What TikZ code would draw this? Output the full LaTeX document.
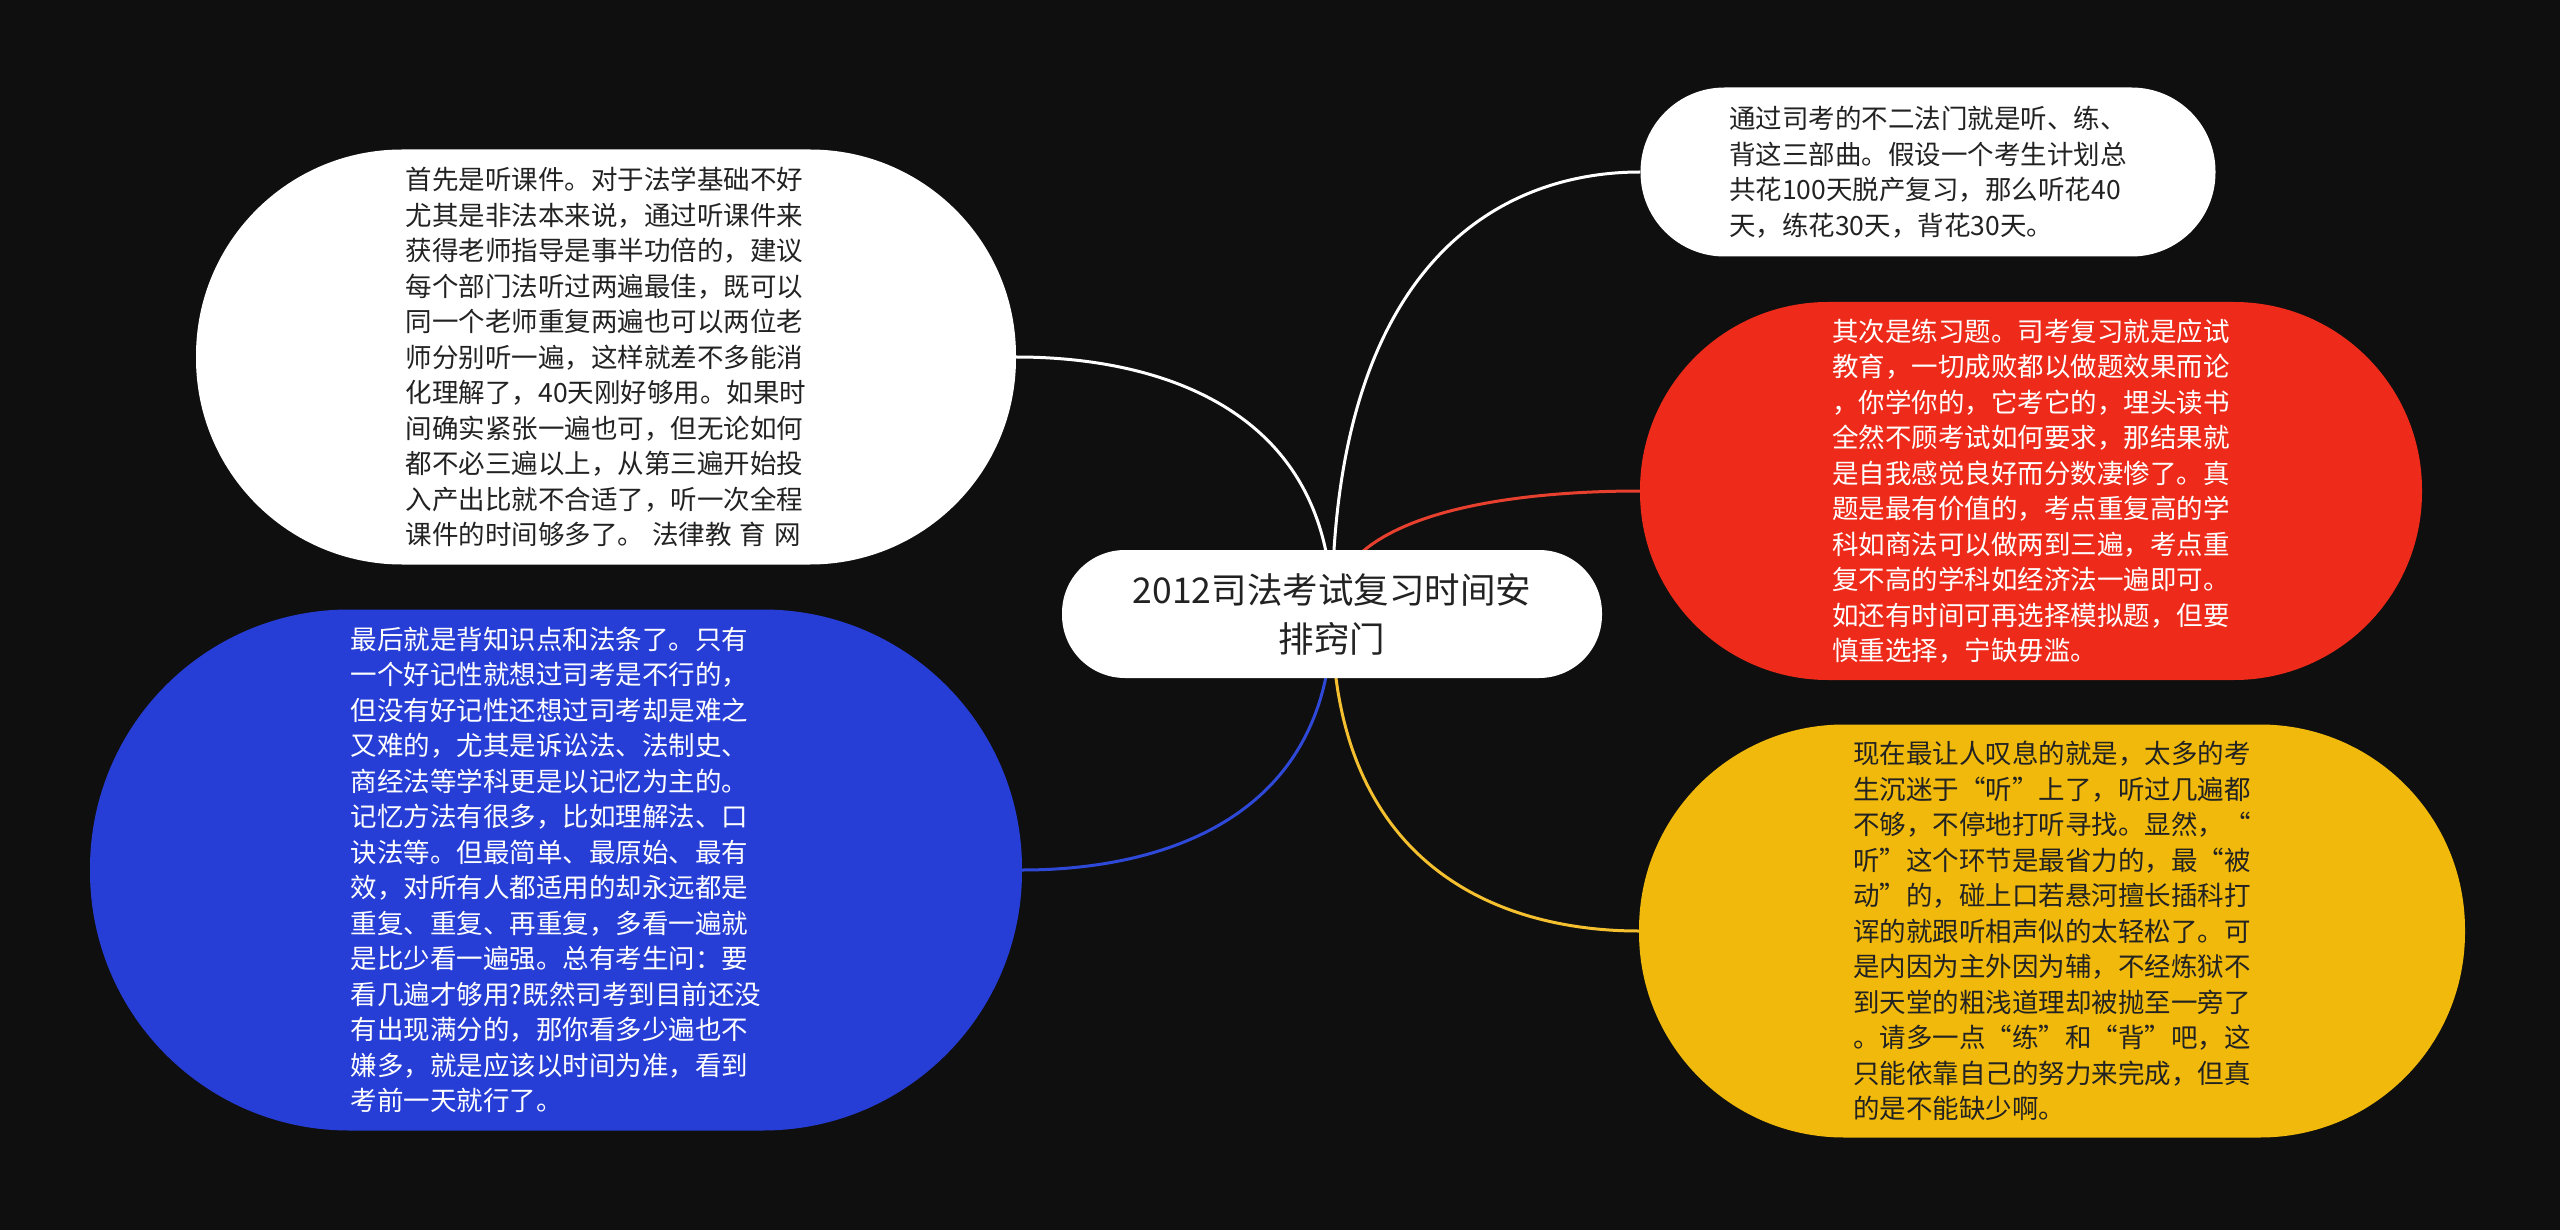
\documentclass[tikz,border=0pt]{standalone}
\usepackage{fontspec}
\newfontfamily\cjk{Noto Sans CJK SC}
\usetikzlibrary{calc}
\pgfdeclarelayer{bg}
\pgfsetlayers{bg,main}
\definecolor{bgc}{HTML}{0F0F0F}
\definecolor{blueN}{HTML}{263ED6}
\definecolor{redN}{HTML}{EE2B1A}
\definecolor{yellowN}{HTML}{F0B90B}
\definecolor{blueL}{HTML}{2E48D8}
\definecolor{redL}{HTML}{E8402E}
\definecolor{yellowL}{HTML}{F5C030}
\definecolor{darkT}{HTML}{222222}
\tikzset{
  bubble/.style={rectangle, inner sep=0pt, align=left,
    font=\cjk\fontsize{26.5}{35.5}\selectfont},
  rootbox/.style={rectangle, inner sep=0pt, align=center, fill=white, text=darkT,
    font=\cjk\fontsize{35.5}{49}\selectfont},
  link/.style={line width=3pt,
    to path={.. controls ($(\tikztostart)!0.8!(\tikztostart |- \tikztotarget)$)
      and ($(\tikztotarget -| \tikztostart)!0.55!(\tikztotarget)$) .. (\tikztotarget)}}
}
\begin{document}
\begin{tikzpicture}[x=1pt,y=-1pt]
\useasboundingbox (0,0) rectangle (2560,1230);

\node[rootbox, minimum width=540pt, minimum height=128pt, rounded corners=63pt] (c) at (1332,614)
  {2012司法考试复习时间安\\排窍门};

\node[bubble, fill=white, text=darkT, minimum width=820pt, minimum height=415pt, rounded corners=206pt] (n1) at (606,357) {%
首先是听课件。对于法学基础不好\\
尤其是非法本来说，通过听课件来\\
获得老师指导是事半功倍的，建议\\
每个部门法听过两遍最佳，既可以\\
同一个老师重复两遍也可以两位老\\
师分别听一遍，这样就差不多能消\\
化理解了，40天刚好够用。如果时\\
间确实紧张一遍也可，但无论如何\\
都不必三遍以上，从第三遍开始投\\
入产出比就不合适了，听一次全程\\
课件的时间够多了。\hspace{0.3em}法律教\hspace{0.3em}育\hspace{0.3em}网};

\node[bubble, fill=blueN, text=white, minimum width=932pt, minimum height=521pt, rounded corners=259pt] (n2) at (556,870) {%
最后就是背知识点和法条了。只有\\
一个好记性就想过司考是不行的，\\
但没有好记性还想过司考却是难之\\
又难的，尤其是诉讼法、法制史、\\
商经法等学科更是以记忆为主的。\\
记忆方法有很多，比如理解法、口\\
诀法等。但最简单、最原始、最有\\
效，对所有人都适用的却永远都是\\
重复、重复、再重复，多看一遍就\\
是比少看一遍强。总有考生问：要\\
看几遍才够用?既然司考到目前还没\\
有出现满分的，那你看多少遍也不\\
嫌多，就是应该以时间为准，看到\\
考前一天就行了。};

\node[bubble, fill=white, text=darkT, minimum width=575pt, minimum height=169pt, rounded corners=84pt] (n3) at (1928,172) {%
通过司考的不二法门就是听、练、\\
背这三部曲。假设一个考生计划总\\
共花100天脱产复习，那么听花40\\
天，练花30天，背花30天。};

\node[bubble, fill=redN, text=white, minimum width=782pt, minimum height=378pt, rounded corners=188pt] (n4) at (2031,491) {%
其次是练习题。司考复习就是应试\\
教育，一切成败都以做题效果而论\\
，你学你的，它考它的，埋头读书\\
全然不顾考试如何要求，那结果就\\
是自我感觉良好而分数凄惨了。真\\
题是最有价值的，考点重复高的学\\
科如商法可以做两到三遍，考点重\\
复不高的学科如经济法一遍即可。\\
如还有时间可再选择模拟题，但要\\
慎重选择，宁缺毋滥。};

\node[bubble, fill=yellowN, text=darkT, minimum width=826pt, minimum height=413pt, rounded corners=205pt] (n5) at (2052,931) {%
现在最让人叹息的就是，太多的考\\
生沉迷于“听”上了，听过几遍都\\
不够，不停地打听寻找。显然，“\\
听”这个环节是最省力的，最“被\\
动”的，碰上口若悬河擅长插科打\\
诨的就跟听相声似的太轻松了。可\\
是内因为主外因为辅，不经炼狱不\\
到天堂的粗浅道理却被抛至一旁了\\
。请多一点“练”和“背”吧，这\\
只能依靠自己的努力来完成，但真\\
的是不能缺少啊。};

\begin{pgfonlayer}{bg}
\fill[bgc] (0,0) rectangle (2560,1230);
\draw[link, white] (c.center) to (n1.east);
\draw[link, white] (c.center) to (n3.west);
\draw[link, redL] (c.center) to (n4.west);
\draw[link, blueL] (c.center) to (n2.east);
\draw[link, yellowL] (c.center) to (n5.west);
\end{pgfonlayer}
\end{tikzpicture}
\end{document}
